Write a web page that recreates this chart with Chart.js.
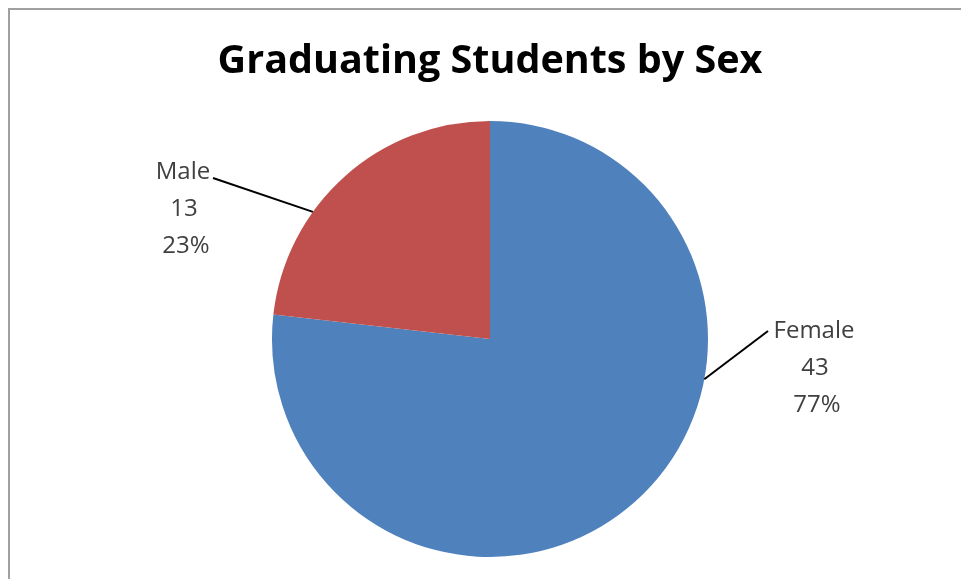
<!DOCTYPE html>
<html lang="en">
<head>
    <meta charset="UTF-8">
    <title>Graduating Students by Sex</title>
    <script src="https://cdn.jsdelivr.net/npm/chart.js"></script>
    <style>
        html, body { margin: 0; padding: 0; background: #fff; }
        #wrap { position: relative; width: 961px; height: 579px; }
    </style>
</head>
<body>
    <div id="wrap"><canvas id="pieChart" width="961" height="579"></canvas></div>
    <script>
        var chartTitle = 'Graduating Students by Sex';
        var categories = ['Female', 'Male'];
        var counts = [43, 13];
        var percents = ['77%', '23%'];
        var colors = ['#4F81BD', '#C0504D'];

        // where each data label sits and where its leader line meets the slice
        // (edge = fraction along the slice's arc)
        var labelLayout = [
            { x: 814, y: 331, edge: 0.364, lineFrom: [768, 331] },
            { x: 183, y: 172, edge: 0.35, lineFrom: [213, 178] }
        ];

        var labelPlugin = {
            id: 'excelLabels',
            beforeDraw: function (chart) {
                var c = chart.ctx;
                c.save();
                c.fillStyle = '#fff';
                c.fillRect(0, 0, chart.width, chart.height);
                c.strokeStyle = '#a0a0a0';
                c.lineWidth = 2;
                c.beginPath();
                c.moveTo(9, chart.height);
                c.lineTo(9, 9);
                c.lineTo(chart.width, 9);
                c.stroke();
                c.restore();
            },
            afterDraw: function (chart) {
                var c = chart.ctx;
                c.save();
                c.fillStyle = '#000';
                c.font = 'bold 39.5px "Open Sans", sans-serif';
                c.textAlign = 'center';
                c.textBaseline = 'middle';
                c.fillText(chartTitle, 490, 62);

                var arcs = chart.getDatasetMeta(0).data;
                arcs.forEach(function (arc, i) {
                    var lay = labelLayout[i];
                    var p = arc.getProps(['x', 'y', 'startAngle', 'endAngle', 'outerRadius'], true);
                    var a = p.startAngle + (p.endAngle - p.startAngle) * lay.edge;
                    var ex = p.x + Math.cos(a) * p.outerRadius;
                    var ey = p.y + Math.sin(a) * p.outerRadius;
                    c.strokeStyle = '#000';
                    c.lineWidth = 2;
                    c.beginPath();
                    c.moveTo(lay.lineFrom[0], lay.lineFrom[1]);
                    c.lineTo(ex, ey);
                    c.stroke();

                    c.fillStyle = '#404040';
                    c.font = '24px "Open Sans", sans-serif';
                    c.textAlign = 'center';
                    c.fillText(categories[i], lay.x, lay.y);
                    c.fillText(String(counts[i]), lay.x + 1, lay.y + 37);
                    c.fillText(percents[i], lay.x + 3, lay.y + 74);
                });
                c.restore();
            }
        };

        var ctx = document.getElementById('pieChart').getContext('2d');
        var pieChart = new Chart(ctx, {
            type: 'pie',
            data: {
                labels: categories,
                datasets: [{
                    data: counts,
                    backgroundColor: colors,
                    borderWidth: 0
                }]
            },
            options: {
                responsive: false,
                animation: false,
                layout: {
                    padding: { top: 121, bottom: 22, left: 272, right: 253 }
                },
                plugins: {
                    legend: { display: false },
                    title: { display: false },
                    tooltip: { enabled: false }
                }
            },
            plugins: [labelPlugin]
        });
    </script>
</body>
</html>
